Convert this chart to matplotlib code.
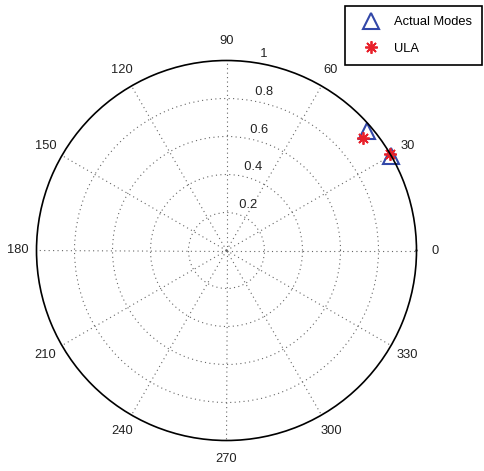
import numpy as np
import matplotlib
matplotlib.use("Agg")
import matplotlib.pyplot as plt
from matplotlib.lines import Line2D

plt.rcParams['font.family'] = ['Liberation Sans', 'DejaVu Sans']

# Mode directions (degrees) and normalized magnitudes
actual_theta_deg = [40.5, 30.0]
actual_r = [0.97, 1.0]
ula_theta_deg = [39.5, 30.5]
ula_r = [0.93, 1.0]

ring_values = [0.2, 0.4, 0.6, 0.8, 1.0]
ring_labels = ['0.2', '0.4', '0.6', '0.8', '1']
angle_ticks = list(range(0, 360, 30))
angle_labels = [str(a) for a in angle_ticks]

blue = '#3247a8'
red = '#e8202a'
grid_color = '#666666'

fig = plt.figure(figsize=(4.84, 4.71), dpi=100)
ax = fig.add_axes([36.5 / 484, 30.5 / 471, 380 / 484, 380 / 471], projection='polar')
ax.set_ylim(0, 1.0)

ax.set_thetagrids(angle_ticks, labels=[''] * len(angle_ticks))
ax.set_rgrids(ring_values[:-1], labels=[''] * (len(ring_values) - 1))
ax.grid(True, color=grid_color, linestyle=(0, (1, 3)), linewidth=0.8)
ax.spines['polar'].set_color('black')
ax.spines['polar'].set_linewidth(1.2)

fs = 9.3
for a, lab in zip(angle_ticks, angle_labels):
    ax.text(np.deg2rad(a), 1.1, lab, ha='center', va='center', fontsize=fs,
            color='#222222', clip_on=False)

lab_ang = np.deg2rad(82)
for r, lab in zip(ring_values, ring_labels):
    ax.text(lab_ang, r + 0.01, '  ' + lab, ha='left', va='bottom', fontsize=fs,
            color='#222222', clip_on=False)

ax.plot(np.deg2rad(actual_theta_deg), actual_r, linestyle='none', marker='^',
        markersize=11, markerfacecolor='none', markeredgecolor=blue,
        markeredgewidth=1.5, clip_on=False)
ax.plot(np.deg2rad(ula_theta_deg), ula_r, linestyle='none', marker=(8, 2, 0),
        markersize=9, markeredgecolor=red, color=red,
        markeredgewidth=1.3, clip_on=False)

handles = [
    Line2D([], [], linestyle='none', marker='^', markersize=11,
           markerfacecolor='none', markeredgecolor=blue, markeredgewidth=1.5),
    Line2D([], [], linestyle='none', marker=(8, 2, 0), markersize=9,
           markeredgecolor=red, color=red, markeredgewidth=1.3),
]
leg = fig.legend(handles, ['Actual Modes', 'ULA'], loc='upper right',
                 bbox_to_anchor=(482 / 484, 1 - 6 / 471), borderaxespad=0,
                 fancybox=False, edgecolor='black', fontsize=fs,
                 labelspacing=1.1, handlelength=2.4, handletextpad=0.55,
                 borderpad=0.8, framealpha=1)
leg.get_frame().set_linewidth(1.2)

fig.savefig('out.png', dpi=100, facecolor='white')
